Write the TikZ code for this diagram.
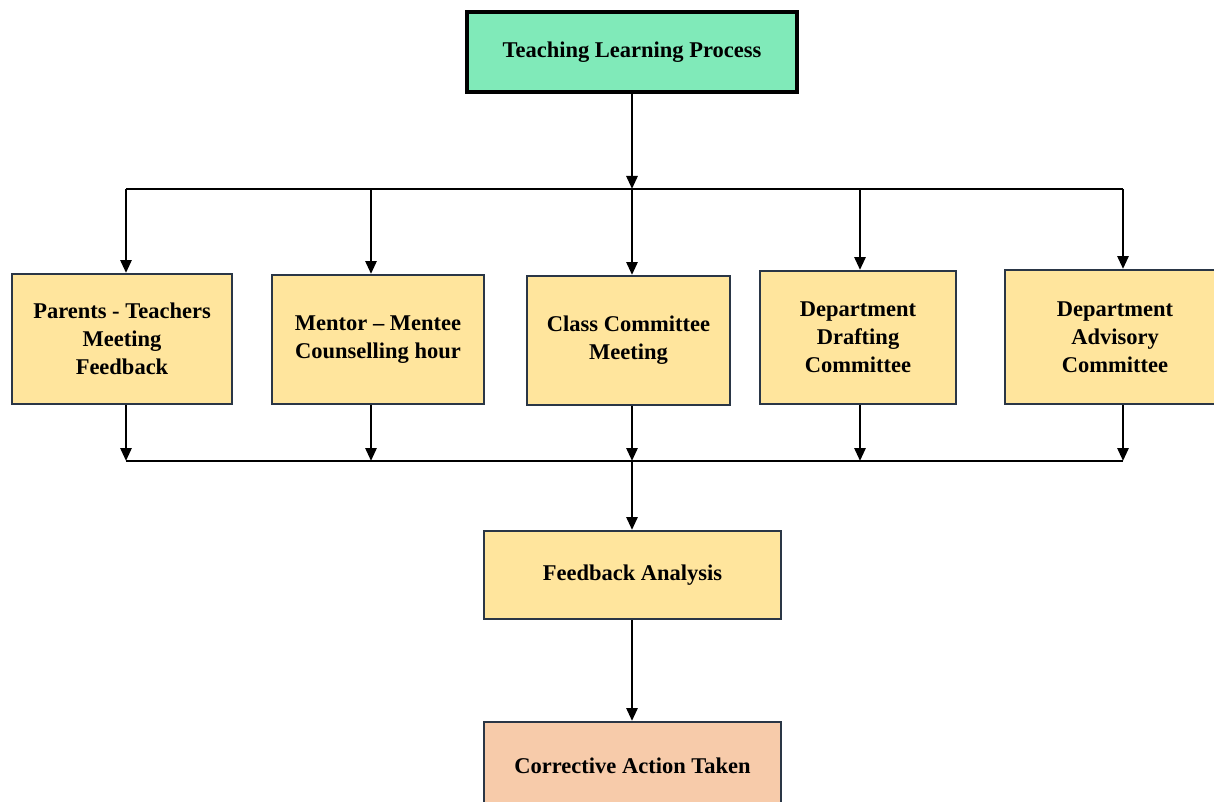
\documentclass[tikz,border=0pt]{standalone}
\usepackage{fontspec}
\setmainfont{Liberation Serif}
\usetikzlibrary{arrows.meta}
\definecolor{topfill}{HTML}{80EAB9}
\definecolor{yfill}{HTML}{FFE59D}
\definecolor{pfill}{HTML}{F7CBAA}
\definecolor{bord}{HTML}{2A3646}
\tikzset{
  box/.style={draw=bord, line width=2pt, align=center, inner sep=0pt,
    font=\fontsize{22.5}{28}\selectfont\bfseries},
  ybox/.style={box, fill=yfill},
  arr/.style={line width=2.8pt, -{Triangle[length=13pt,width=11pt]}},
  ln/.style={line width=2.8pt},
}
\begin{document}
\begin{tikzpicture}[x=1pt,y=-1pt]
\useasboundingbox (0,0) rectangle (1214,802);
\fill[white] (0,0) rectangle (1214,802);
\node[box, draw=black, line width=3.5pt, fill=topfill, minimum width=330pt, minimum height=80pt] (top) at (632,52) {Teaching Learning Process};
\node[ybox, minimum width=220pt, minimum height=130pt] (b1) at (122,339) {Parents - Teachers\\Meeting\\Feedback};
\node[ybox, minimum width=212pt, minimum height=129pt] (b2) at (378,339.5) {Mentor -- Mentee\\Counselling hour};
\node[ybox, minimum width=203pt, minimum height=129pt] (b3) at (628.5,340.5) {Class Committee\\Meeting};
\node[ybox, minimum width=196pt, minimum height=133pt] (b4) at (858,337.5) {Department\\Drafting\\Committee};
\node[ybox, minimum width=220pt, minimum height=134pt] (b5) at (1115,337) {Department\\Advisory\\Committee};
\node[ybox, minimum width=297pt, minimum height=88pt] (fa) at (632.5,575) {Feedback Analysis};
\node[box, fill=pfill, minimum width=297pt, minimum height=88pt] (ca) at (632.5,766) {Corrective Action Taken};

\coordinate (u1) at (126,189);
\coordinate (u2) at (371,189);
\coordinate (u3) at (632,189);
\coordinate (u4) at (860,189);
\coordinate (u5) at (1123,189);
\coordinate (d1) at (126,461);
\coordinate (d2) at (371,461);
\coordinate (d3) at (632,461);
\coordinate (d4) at (860,461);
\coordinate (d5) at (1123,461);

\draw[arr] (top.south -| u3) -- (u3);
\draw[ln] (u1) -- (u5);
\foreach \i in {1,...,5}{
  \draw[arr] (u\i) -- (u\i |- b\i.north);
  \draw[arr] (u\i |- b\i.south) -- (d\i);
}
\draw[ln] (d1) -- (d5);
\draw[arr] (d3) -- (d3 |- fa.north);
\draw[arr] (fa.south -| d3) -- (d3 |- ca.north);
\end{tikzpicture}
\end{document}
